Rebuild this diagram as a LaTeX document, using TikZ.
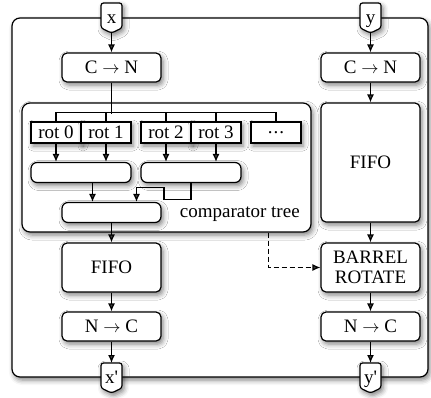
\documentclass[tikz,border=0pt]{standalone}
\usepackage{fontspec}
\setmainfont{Liberation Serif}
\usetikzlibrary{arrows.meta, positioning, calc, shadows.blur}

\begin{document}
\begin{tikzpicture}[x=1pt, y=-1pt, line width=1.2pt,
  font=\fontsize{19}{20}\selectfont,
  shad/.style={blur shadow={shadow xshift=2pt, shadow yshift=-3pt, shadow blur radius=5pt, shadow opacity=50}},
  frame/.style={draw, fill=white, rounded corners=8pt, inner sep=0pt, shad},
  blk/.style={draw, fill=white, rounded corners=5pt, inner sep=0pt, minimum width=99pt, minimum height=29pt, shad},
  rotbox/.style={draw, fill=white, inner sep=0pt, minimum width=50pt, minimum height=21pt, shad},
  cmp/.style={blk, rounded corners=6pt, minimum width=100pt, minimum height=20pt},
  tagline/.style={draw, fill=white, rounded corners=2.5pt, shad},
  arr/.style={-{Latex[length=8pt,width=7pt]}}]
  \useasboundingbox (0,0) rectangle (431,397);
  % outer frame and comparator group
  \node[frame, minimum width=416pt, minimum height=359pt] (outer) at (220,197.5) {};
  \node[frame, minimum width=289pt, minimum height=129pt] (tree) at (166.5,167.5) {};
  \node[anchor=east] (treelbl) at ($(tree.south east)+(-8,-18)$) {comparator tree};
  % x side
  \node[blk] (cnx) at (111.5,67.5) {C $\rightarrow$ N};
  \foreach \i/\cx in {0/56, 1/106, 2/166, 3/216}
    \node[rotbox] (r\i) at (\cx,132.5) {rot \i};
  \node[rotbox] (rdots) at (276,132.5) {.\kern1pt.\kern1pt.};
  \node[cmp] (c1) at (81,172.5) {};
  \node[cmp] (c2) at (191,172.5) {};
  \node[cmp, minimum width=99pt] (c3) at (111.5,212.5) {};
  \node[blk, minimum height=49pt] (fifox) at (111.5,267.5) {FIFO};
  \node[blk] (ncx) at (111.5,326.5) {N $\rightarrow$ C};
  % y side
  \node[blk] (cny) at (370.5,67.5) {C $\rightarrow$ N};
  \node[blk, minimum height=119pt] (fifoy) at (370.5,162.5) {FIFO};
  \node[blk, minimum height=49pt, align=center] (rot) at (370.5,267.5) {BARREL\\ROTATE};
  \node[blk] (ncy) at (370.5,326.5) {N $\rightarrow$ C};
  % in/out tags
  \foreach \cx/\cy/\txt/\nm in {111.5/3/x/xin, 370.5/3/y/yin,
      111.5/363/x\textquotesingle/xout, 370.5/363/y\textquotesingle/yout} {
    \draw[tagline] (\cx,\cy+30) -- (\cx-10.5,\cy+25) -- (\cx-10.5,\cy)
      -- (\cx+10.5,\cy) -- (\cx+10.5,\cy+25) -- cycle;
    \node[anchor=base, inner sep=0pt] (\nm) at (\cx,\cy+20) {\txt};
    \coordinate (\nm top) at (\cx,\cy);
    \coordinate (\nm tip) at (\cx,\cy+30);
  }
  % bus to the rotations
  \draw[arr] (xintip) -- (cnx.north);
  \draw (cnx.south) -- ++(0,31);
  \draw (r0.north) -- ++(0,-9) -| (rdots.north);
  \foreach \n in {r1, r2, r3}
    \draw (\n.north) -- ++(0,-9);
  % comparator tree
  \foreach \n in {r0, r1}
    \draw[arr] (\n.south) -- (c1.north -| \n.south);
  \foreach \n in {r2, r3}
    \draw[arr] (\n.south) -- (c2.north -| \n.south);
  \coordinate (m1) at ($(c3.north)+(-19,0)$);
  \coordinate (m2) at ($(c3.north)+(25,0)$);
  \draw[arr] (c1.south -| m1) -- (m1);
  \draw[arr] (c2.south) -- ++(0,16) -- ++(-27,0) -- ++(0,-12) -| (m2);
  \draw[arr] (c3.south) -- (fifox.north);
  \draw[arr] (fifox.south) -- (ncx.north);
  \draw[arr] (ncx.south) -- (xouttop);
  % y chain
  \draw[arr] (yintip) -- (cny.north);
  \draw[arr] (cny.south) -- (fifoy.north);
  \draw[arr] (fifoy.south) -- (rot.north);
  \draw[arr] (rot.south) -- (ncy.north);
  \draw[arr] (ncy.south) -- (youttop);
  % rotation amount
  \draw[arr, dash pattern=on 5pt off 3pt] ($(tree.south east)+(-43,0)$) |- (rot.west);
\end{tikzpicture}
\end{document}
